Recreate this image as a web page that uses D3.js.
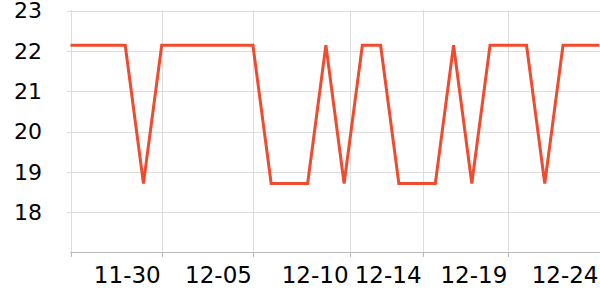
<!DOCTYPE html>
<html><head><meta charset="utf-8">
<script src="https://cdn.jsdelivr.net/npm/d3@7"></script>
<style>body{margin:0;background:#fff}svg{display:block;font-family:"DejaVu Sans",sans-serif}</style>
</head><body><svg id="c" width="600" height="300"></svg>
<script>
const values = [22.14,22.14,22.14,22.14,18.71,22.14,22.14,22.14,22.14,22.14,22.14,18.71,18.71,18.71,22.14,18.71,22.14,22.14,18.71,18.71,18.71,22.14,18.71,22.14,22.14,22.14,18.71,22.14,22.14,22.14];
const xTickPos = [5, 10, 15.3, 19.3, 24, 29];
const xTickLabels = ["11-30","12-05","12-10","12-14","12-19","12-24"];
const yTicks = [18,19,20,21,22,23];

const svg = d3.select("#c");
const x = d3.scaleLinear().domain([0, values.length - 1]).range([70.5, 599.5]);
const y = d3.scaleLinear().domain([17, 23]).range([252.5, 10.5]);

// horizontal grid
svg.append("g").selectAll("line").data(yTicks).join("line")
  .attr("x1", 67).attr("x2", 600)
  .attr("y1", d => Math.round(y(d)) + 0.5).attr("y2", d => Math.round(y(d)) + 0.5)
  .attr("stroke", "#dddddd").attr("stroke-width", 1);
// vertical grid
svg.append("g").selectAll("line").data([0].concat(xTickPos.slice(0, -1))).join("line")
  .attr("x1", d => Math.round(x(d)) + 0.5).attr("x2", d => Math.round(x(d)) + 0.5)
  .attr("y1", 10).attr("y2", 252)
  .attr("stroke", "#dddddd").attr("stroke-width", 1);
// x axis line + ticks
svg.append("line").attr("x1", 70).attr("x2", 600).attr("y1", 252.5).attr("y2", 252.5)
  .attr("stroke", "#bbbbbb").attr("stroke-width", 1);
svg.append("g").selectAll("line").data([0].concat(xTickPos.slice(0, -1))).join("line")
  .attr("x1", d => Math.round(x(d)) + 0.5).attr("x2", d => Math.round(x(d)) + 0.5)
  .attr("y1", 252).attr("y2", 257)
  .attr("stroke", "#bbbbbb").attr("stroke-width", 1);
// y labels
svg.append("g").selectAll("text").data(yTicks).join("text")
  .attr("x", 42).attr("y", d => y(d)).attr("dy", "0.36em")
  .attr("text-anchor", "end").attr("font-size", 22).attr("fill", "#000")
  .text(d => d);
// x labels
svg.append("g").selectAll("text").data(xTickPos).join("text")
  .attr("x", d => x(d) - 1).attr("y", 283)
  .attr("text-anchor", "end").attr("font-size", 23).attr("fill", "#000")
  .text((d, i) => xTickLabels[i]);
// line
svg.append("path").datum(values)
  .attr("d", d3.line().x((d, i) => x(i)).y(d => y(d)))
  .attr("fill", "none").attr("stroke", "#f04b2e").attr("stroke-width", 3)
  .attr("stroke-linejoin", "miter");
</script></body></html>
